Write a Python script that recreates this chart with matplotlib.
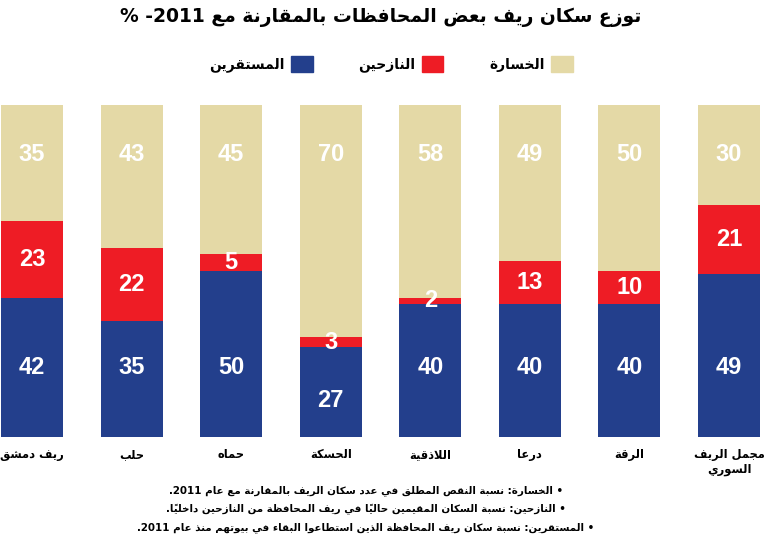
import re
import matplotlib
matplotlib.use('Agg')
import matplotlib.pyplot as plt
from matplotlib.patches import Patch
from matplotlib import font_manager

# data (left to right as in the picture)
regions = ['ريف دمشق', 'حلب', 'حماه', 'الحسكة', 'اللاذقية', 'درعا', 'الرقة', 'مجمل الريف\nالسوري']
settled = [42, 35, 50, 27, 40, 40, 40, 49]
displaced = [23, 22, 5, 3, 2, 13, 10, 21]
loss = [35, 43, 45, 70, 58, 49, 50, 30]

series_names = ['الخسارة', 'النازحين', 'المستقرين']
title = 'توزع سكان ريف بعض المحافظات بالمقارنة مع 2011- %'
notes = [
    '• الخسارة: نسبة النقص المطلق في عدد سكان الريف بالمقارنة مع عام 2011.',
    '• النازحين: نسبة السكان المقيمين حالياً في ريف المحافظة من النازحين داخلياً.',
    '• المستقرين: نسبة سكان ريف المحافظة الذين استطاعوا البقاء في بيوتهم منذ عام 2011.',
]

c_loss = '#E4D9A6'
c_disp = '#EE1C25'
c_settled = '#233F8C'

# --- small arabic shaper (matplotlib has no text shaping) ---
LETTERS = {
    'ء': (0xFE80, 'U'), 'آ': (0xFE81, 'R'), 'أ': (0xFE83, 'R'), 'ؤ': (0xFE85, 'R'),
    'إ': (0xFE87, 'R'), 'ئ': (0xFE89, 'D'), 'ا': (0xFE8D, 'R'), 'ب': (0xFE8F, 'D'),
    'ة': (0xFE93, 'R'), 'ت': (0xFE95, 'D'), 'ث': (0xFE99, 'D'), 'ج': (0xFE9D, 'D'),
    'ح': (0xFEA1, 'D'), 'خ': (0xFEA5, 'D'), 'د': (0xFEA9, 'R'), 'ذ': (0xFEAB, 'R'),
    'ر': (0xFEAD, 'R'), 'ز': (0xFEAF, 'R'), 'س': (0xFEB1, 'D'), 'ش': (0xFEB5, 'D'),
    'ص': (0xFEB9, 'D'), 'ض': (0xFEBD, 'D'), 'ط': (0xFEC1, 'D'), 'ظ': (0xFEC5, 'D'),
    'ع': (0xFEC9, 'D'), 'غ': (0xFECD, 'D'), 'ف': (0xFED1, 'D'), 'ق': (0xFED5, 'D'),
    'ك': (0xFED9, 'D'), 'ل': (0xFEDD, 'D'), 'م': (0xFEE1, 'D'), 'ن': (0xFEE5, 'D'),
    'ه': (0xFEE9, 'D'), 'و': (0xFEED, 'R'), 'ى': (0xFEEF, 'R'), 'ي': (0xFEF1, 'D'),
}
LAM_ALEF = {'ا': 0xFEFB, 'أ': 0xFEF7, 'إ': 0xFEF9, 'آ': 0xFEF5}


def shape_line(s):
    units = []  # [iso_code or char, type, marks]
    i = 0
    while i < len(s):
        ch = s[i]
        if '\u064B' <= ch <= '\u0652':
            if units:
                units[-1][2] += ch
            i += 1
            continue
        if ch == 'ل' and i + 1 < len(s) and s[i + 1] in LAM_ALEF:
            units.append([LAM_ALEF[s[i + 1]], 'R', ''])
            i += 2
            continue
        if ch in LETTERS:
            code, t = LETTERS[ch]
            units.append([code, t, ''])
        else:
            units.append([ch, None, ''])
        i += 1
    out = []
    for k, (code, t, marks) in enumerate(units):
        if t is None:
            out.append(code + marks)
            continue
        prev_t = units[k - 1][1] if k > 0 else None
        next_t = units[k + 1][1] if k + 1 < len(units) else None
        jp = prev_t == 'D' and t in ('D', 'R')
        jn = t == 'D' and next_t in ('D', 'R')
        if jp and jn:
            g = code + 3
        elif jp:
            g = code + 1
        elif jn:
            g = code + 2
        else:
            g = code
        out.append(chr(g) + marks)
    vis = ''.join(reversed(out))
    vis = re.sub(r'[0-9]+', lambda m: m.group(0)[::-1], vis)
    return vis


def ar(s):
    return '\n'.join(shape_line(line) for line in s.split('\n'))


# narrow font for the numbers, if one is there
names = {f.name for f in font_manager.fontManager.ttflist}
num_font = ['Liberation Sans Narrow'] if 'Liberation Sans Narrow' in names else ['Liberation Sans']
ar_font = ['DejaVu Sans']

fig = plt.figure(figsize=(7.66, 5.40), dpi=100)
ax = fig.add_axes([1 / 766, 1 - 437 / 540, 759 / 766, 332 / 540])

x = list(range(len(regions)))
w = 0.622
ax.bar(x, settled, w, color=c_settled, zorder=2)
ax.bar(x, displaced, w, bottom=settled, color=c_disp, zorder=2)
bottom2 = [a + b for a, b in zip(settled, displaced)]
ax.bar(x, loss, w, bottom=bottom2, color=c_loss, zorder=1)

ax.set_xlim(-0.311, 7.311)
ax.set_ylim(0, 100)
ax.axis('off')

for i in x:
    ys = 21 if settled[i] >= 30 else settled[i] - 16
    ax.text(i, ys, str(settled[i]), ha='center', va='center', color='white',
            fontsize=17, fontweight='bold', family=num_font)
    ax.text(i, settled[i] + displaced[i] / 2, str(displaced[i]), ha='center', va='center',
            color='white', fontsize=17, fontweight='bold', family=num_font)
    ax.text(i, 85, str(loss[i]), ha='center', va='center', color='white',
            fontsize=17, fontweight='bold', family=num_font)
    ax.text(i, -3.4, ar(regions[i]), ha='center', va='top', fontsize=8.3,
            fontweight='bold', family=ar_font, linespacing=1.15)

fig.text(381 / 766, 1 - 17 / 540, ar(title), ha='center', va='center', fontsize=13.5,
         fontweight='bold', family=ar_font)

handles = [Patch(color=c_settled), Patch(color=c_disp), Patch(color=c_loss)]
labels = [ar(series_names[2]), ar(series_names[1]), ar(series_names[0])]
fig.legend(handles, labels, loc='center', bbox_to_anchor=(391 / 766, 1 - 64 / 540),
           ncol=3, frameon=False, markerfirst=False, handlelength=1.55,
           handleheight=1.45, handletextpad=0.45, columnspacing=3.3,
           prop={'family': ar_font, 'weight': 'bold', 'size': 10})

for k, line in enumerate(notes):
    fig.text(366 / 766, 1 - (491 + 18.5 * k) / 540, ar(line), ha='center', va='center',
             fontsize=7.4, fontweight='bold', family=ar_font)

fig.savefig('out.png', dpi=100)
